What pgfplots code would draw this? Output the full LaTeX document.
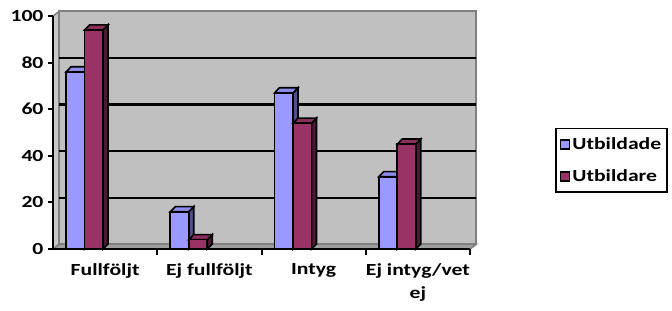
\documentclass[border=0pt]{standalone}
\usepackage{fontspec}
\setmainfont{Carlito}[FakeStretch=1.28]
\usepackage{pgfplots}
\pgfplotsset{compat=1.18}
\definecolor{wallc}{HTML}{C0C0C0}
\definecolor{walle}{HTML}{808080}
\definecolor{floorc}{HTML}{A0A0A0}
\definecolor{sidew}{HTML}{C8C8C8}
\definecolor{bfront}{HTML}{9999FF}
\definecolor{btop}{HTML}{8C8CEB}
\definecolor{bside}{HTML}{50508C}
\definecolor{rfront}{HTML}{993366}
\definecolor{rtop}{HTML}{8A2E5C}
\definecolor{rside}{HTML}{4D1A33}
\newcommand{\cf}{\fontsize{17}{23}\selectfont\bfseries}
\begin{document}
\begin{tikzpicture}
\path[use as bounding box] (-53bp,-62bp) rectangle (619bp,249bp);
\begin{axis}[
  at={(0,0)}, anchor=south west,
  scale only axis, width=417bp, height=233bp,
  xmin=-0.5, xmax=3.5, ymin=0, ymax=100,
  clip=false, axis on top,
  axis lines*=left,
  axis line style={black, line width=2.4bp, -},
  xtick={0,1,2,3},
  xticklabels={Fullföljt, Ej fullföljt, Intyg, {Ej intyg/vet\\ej}},
  xticklabel style={align=center, yshift=-6bp},
  major x tick style={draw=none},
  minor xtick={0.5,1.5,2.5,3.5},
  minor tick length=6bp,
  ytick={0,20,40,60,80,100},
  tick align=outside,
  major tick length=5bp,
  tick style={black, line width=2bp},
  tick label style={font=\cf},
  yticklabel style={xshift=-1bp},
  /pgf/number format/assume math mode=true,
  legend style={at={(1,0.38)}, anchor=west, xshift=85bp, draw=black,
    line width=1.8bp, font=\cf, row sep=15bp, inner xsep=4bp, inner ysep=7bp,
    cells={anchor=west}},
  legend image code/.code={\draw[#1, draw=black, line width=1.5bp] (0bp,-4.5bp) rectangle (9bp,4.5bp);},
]
% walls and floor
\addplot[fill=sidew, draw=walle, line width=1.5bp, forget plot] coordinates {(-0.5,0) (-0.5,100) (-0.44,102) (-0.44,2)} -- cycle;
\addplot[fill=wallc, draw=walle, line width=2bp, forget plot] coordinates {(-0.44,2) (3.56,2) (3.56,102) (-0.44,102)} -- cycle;
\addplot[fill=floorc, draw=walle, line width=1.5bp, forget plot] coordinates {(-0.5,0) (3.5,0) (3.56,2) (-0.44,2)} -- cycle;
% gridlines
\addplot[black, line width=2.2bp, forget plot] coordinates {(-0.44,22) (3.56,22)};
\addplot[black, line width=2.2bp, forget plot] coordinates {(-0.44,42) (3.56,42)};
\addplot[black, line width=2.2bp, forget plot] coordinates {(-0.44,62) (3.56,62)};
\addplot[black, line width=2.2bp, forget plot] coordinates {(-0.44,82) (3.56,82)};
% Utbildade: side and top faces
\addplot[fill=bside, draw=black, line width=1.6bp, forget plot] coordinates {(-0.1975,0) (-0.1495,2.2) (-0.1495,78.2) (-0.1975,76)} -- cycle;
\addplot[fill=bside, draw=black, line width=1.6bp, forget plot] coordinates {(0.8025,0) (0.8505,2.2) (0.8505,18.2) (0.8025,16)} -- cycle;
\addplot[fill=bside, draw=black, line width=1.6bp, forget plot] coordinates {(1.8025,0) (1.8505,2.2) (1.8505,69.2) (1.8025,67)} -- cycle;
\addplot[fill=bside, draw=black, line width=1.6bp, forget plot] coordinates {(2.8025,0) (2.8505,2.2) (2.8505,33.2) (2.8025,31)} -- cycle;
\addplot[fill=btop, draw=black, line width=1.6bp, forget plot] coordinates {(-0.375,76) (-0.1975,76) (-0.1495,78.2) (-0.327,78.2)} -- cycle;
\addplot[fill=btop, draw=black, line width=1.6bp, forget plot] coordinates {(0.625,16) (0.8025,16) (0.8505,18.2) (0.673,18.2)} -- cycle;
\addplot[fill=btop, draw=black, line width=1.6bp, forget plot] coordinates {(1.625,67) (1.8025,67) (1.8505,69.2) (1.673,69.2)} -- cycle;
\addplot[fill=btop, draw=black, line width=1.6bp, forget plot] coordinates {(2.625,31) (2.8025,31) (2.8505,33.2) (2.673,33.2)} -- cycle;
% Utbildade: front
\addplot[ybar, bar width=0.1775, bar shift=-0.28625, fill=bfront, draw=black, line width=1.6bp]
  coordinates {(0,76) (1,16) (2,67) (3,31)};
% Utbildare: side and top faces
\addplot[fill=rside, draw=black, line width=1.6bp, forget plot] coordinates {(-0.02,0) (0.028,2.2) (0.028,96.2) (-0.02,94)} -- cycle;
\addplot[fill=rside, draw=black, line width=1.6bp, forget plot] coordinates {(0.98,0) (1.028,2.2) (1.028,6.2) (0.98,4)} -- cycle;
\addplot[fill=rside, draw=black, line width=1.6bp, forget plot] coordinates {(1.98,0) (2.028,2.2) (2.028,56.2) (1.98,54)} -- cycle;
\addplot[fill=rside, draw=black, line width=1.6bp, forget plot] coordinates {(2.98,0) (3.028,2.2) (3.028,47.2) (2.98,45)} -- cycle;
\addplot[fill=rtop, draw=black, line width=1.6bp, forget plot] coordinates {(-0.1975,94) (-0.02,94) (0.028,96.2) (-0.1495,96.2)} -- cycle;
\addplot[fill=rtop, draw=black, line width=1.6bp, forget plot] coordinates {(0.8025,4) (0.98,4) (1.028,6.2) (0.8505,6.2)} -- cycle;
\addplot[fill=rtop, draw=black, line width=1.6bp, forget plot] coordinates {(1.8025,54) (1.98,54) (2.028,56.2) (1.8505,56.2)} -- cycle;
\addplot[fill=rtop, draw=black, line width=1.6bp, forget plot] coordinates {(2.8025,45) (2.98,45) (3.028,47.2) (2.8505,47.2)} -- cycle;
% Utbildare: front
\addplot[ybar, bar width=0.1775, bar shift=-0.10875, fill=rfront, draw=black, line width=1.6bp]
  coordinates {(0,94) (1,4) (2,54) (3,45)};
\legend{Utbildade, Utbildare}
\end{axis}
\end{tikzpicture}
\end{document}
